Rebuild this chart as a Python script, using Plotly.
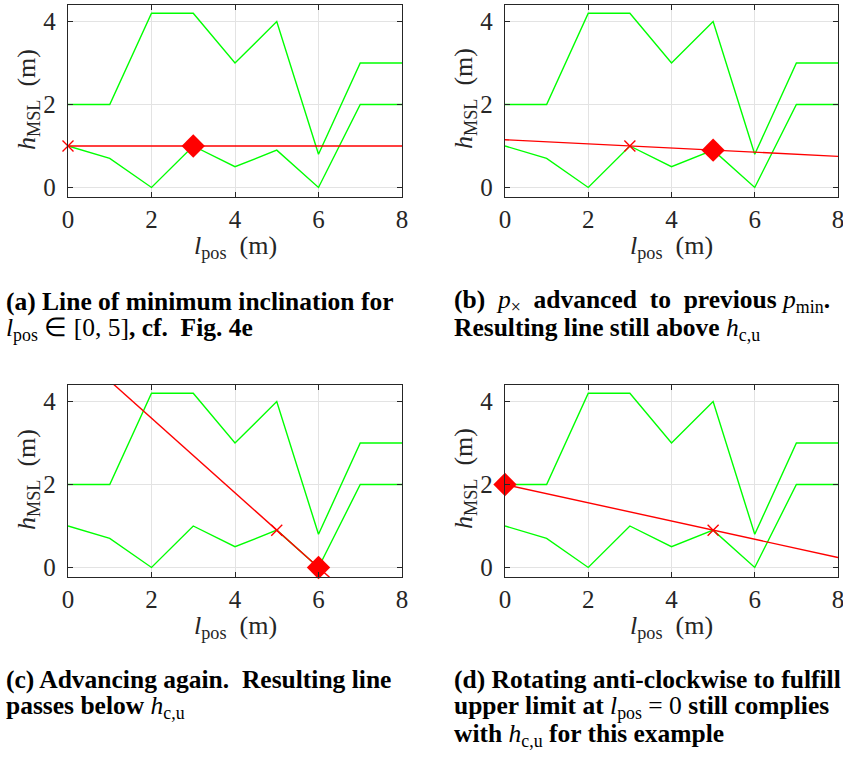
import plotly.graph_objects as go

# ---------------- data ----------------
l_pos = [0, 1, 2, 3, 4, 5, 6, 7, 8]
h_upper = [2, 2, 4.2, 4.2, 3, 4, 0.8, 3, 3]
h_lower = [1, 0.7, 0, 1, 0.5, 0.9, 0, 2, 2]

line_x = [0, 8]
line_y = {
    "a": [1.0, 1.0],
    "b": [1.15, 0.75],
    "c": [5.4, -1.8],
    "d": [2.0, 0.24],
}
cross_pt = {"a": (0, 1.0), "b": (3, 1.0), "c": (5, 0.9), "d": (5, 0.9)}
diamond_pt = {"a": (3, 1.0), "b": (5, 0.9), "c": (6, 0.0), "d": (0, 2.0)}

x_ticks = [0, 2, 4, 6, 8]
y_ticks = [0, 2, 4]

captions = {
    "a": ["<b>(a) Line of minimum inclination for</b>",
          "<i>l</i><sub>pos</sub> ∈ [0, 5]<b>, cf.  Fig. 4e</b>"],
    "b": ["<b>(b)</b>  <i>p</i><sub>×</sub>  <b>advanced  to  previous</b> <i>p</i><sub>min</sub><b>.</b>",
          "<b>Resulting line still above</b> <i>h</i><sub>c,u</sub>"],
    "c": ["<b>(c) Advancing again.  Resulting line</b>",
          "<b>passes below</b> <i>h</i><sub>c,u</sub>"],
    "d": ["<b>(d) Rotating anti-clockwise to fulfill</b>",
          "<b>upper limit at</b> <i>l</i><sub>pos</sub> = 0 <b>still complies</b>",
          "<b>with</b> <i>h</i><sub>c,u</sub> <b>for this example</b>"],
}

# ---------------- layout geometry (pixels) ----------------
W, H = 843, 760
panels = {
    "a": (1, 68, 402, 5, 197, 4, [301, 329]),
    "b": (2, 505, 838, 5, 197, 452, [301, 329]),
    "c": (3, 68, 402, 385, 577, 4, [679, 707]),
    "d": (4, 505, 838, 385, 577, 452, [679, 707, 735]),
}

SERIF = "'Liberation Serif', 'Times New Roman', Times, serif"
GREEN = "#00ff00"
RED = "#ff0000"
FRAME = "#262626"
TICKFONT = dict(family=SERIF, size=25, color="#262626")
LABELFONT = dict(family=SERIF, size=26, color="#262626")
CAPFONT = dict(family=SERIF, size=25.5, color="black")

fig = go.Figure()
annotations = []
layout_axes = {}

for key, (i, L, R, T, B, cx, cys) in panels.items():
    xa = "x" if i == 1 else f"x{i}"
    ya = "y" if i == 1 else f"y{i}"
    fig.add_trace(go.Scatter(x=l_pos, y=h_upper, mode="lines",
                             line=dict(color=GREEN, width=1.4),
                             xaxis=xa, yaxis=ya, showlegend=False))
    fig.add_trace(go.Scatter(x=l_pos, y=h_lower, mode="lines",
                             line=dict(color=GREEN, width=1.4),
                             xaxis=xa, yaxis=ya, showlegend=False))
    fig.add_trace(go.Scatter(x=line_x, y=line_y[key], mode="lines",
                             line=dict(color=RED, width=1.4),
                             xaxis=xa, yaxis=ya, showlegend=False))
    fig.add_trace(go.Scatter(x=[cross_pt[key][0]], y=[cross_pt[key][1]], mode="markers",
                             marker=dict(symbol="x-thin-open", size=11,
                                         line=dict(color=RED, width=1.4), color=RED),
                             cliponaxis=False, xaxis=xa, yaxis=ya, showlegend=False))
    fig.add_trace(go.Scatter(x=[diamond_pt[key][0]], y=[diamond_pt[key][1]], mode="markers",
                             marker=dict(symbol="diamond", size=18, color=RED,
                                         line=dict(width=0)),
                             cliponaxis=False, xaxis=xa, yaxis=ya, showlegend=False))

    axname_x = "xaxis" if i == 1 else f"xaxis{i}"
    axname_y = "yaxis" if i == 1 else f"yaxis{i}"
    common = dict(showline=True, linecolor=FRAME, linewidth=1.3, mirror="ticks",
                  ticks="inside", ticklen=5, tickwidth=1, tickcolor=FRAME,
                  showgrid=True, gridcolor="#e3e3e3", gridwidth=1,
                  zeroline=False, tickfont=TICKFONT, automargin=False,
                  fixedrange=True, ticklabeloverflow="allow")
    layout_axes[axname_x] = dict(common, domain=[L / W, R / W], range=[0, 8],
                                 tickvals=x_ticks, anchor=ya, ticklabelstandoff=0)
    layout_axes[axname_y] = dict(common, domain=[1 - B / H, 1 - T / H], range=[-0.23, 4.4],
                                 tickvals=y_ticks, anchor=xa, ticklabelstandoff=6)

    annotations.append(dict(text="<i>l</i><sub>pos</sub>  (m)", x=(L + R) / 2 / W,
                            y=1 - (B + 50) / H, xref="paper", yref="paper",
                            showarrow=False, font=LABELFONT, xanchor="center", yanchor="middle"))
    annotations.append(dict(text="<i>h</i><sub>MSL</sub>  (m)", x=(L - 40) / W,
                            y=1 - ((T + B) / 2 - 2) / H, xref="paper", yref="paper",
                            showarrow=False, font=LABELFONT, textangle=-90,
                            xanchor="center", yanchor="middle"))
    for txt, cy in zip(captions[key], cys):
        annotations.append(dict(text=txt, x=cx / W, y=1 - cy / H, xref="paper", yref="paper",
                                showarrow=False, font=CAPFONT, xanchor="left", yanchor="middle",
                                align="left"))

fig.update_layout(
    width=W, height=H,
    margin=dict(l=0, r=0, t=0, b=0),
    paper_bgcolor="white", plot_bgcolor="white",
    annotations=annotations,
    showlegend=False,
    **layout_axes,
)

fig.write_html("out.html", config={"displayModeBar": False})
